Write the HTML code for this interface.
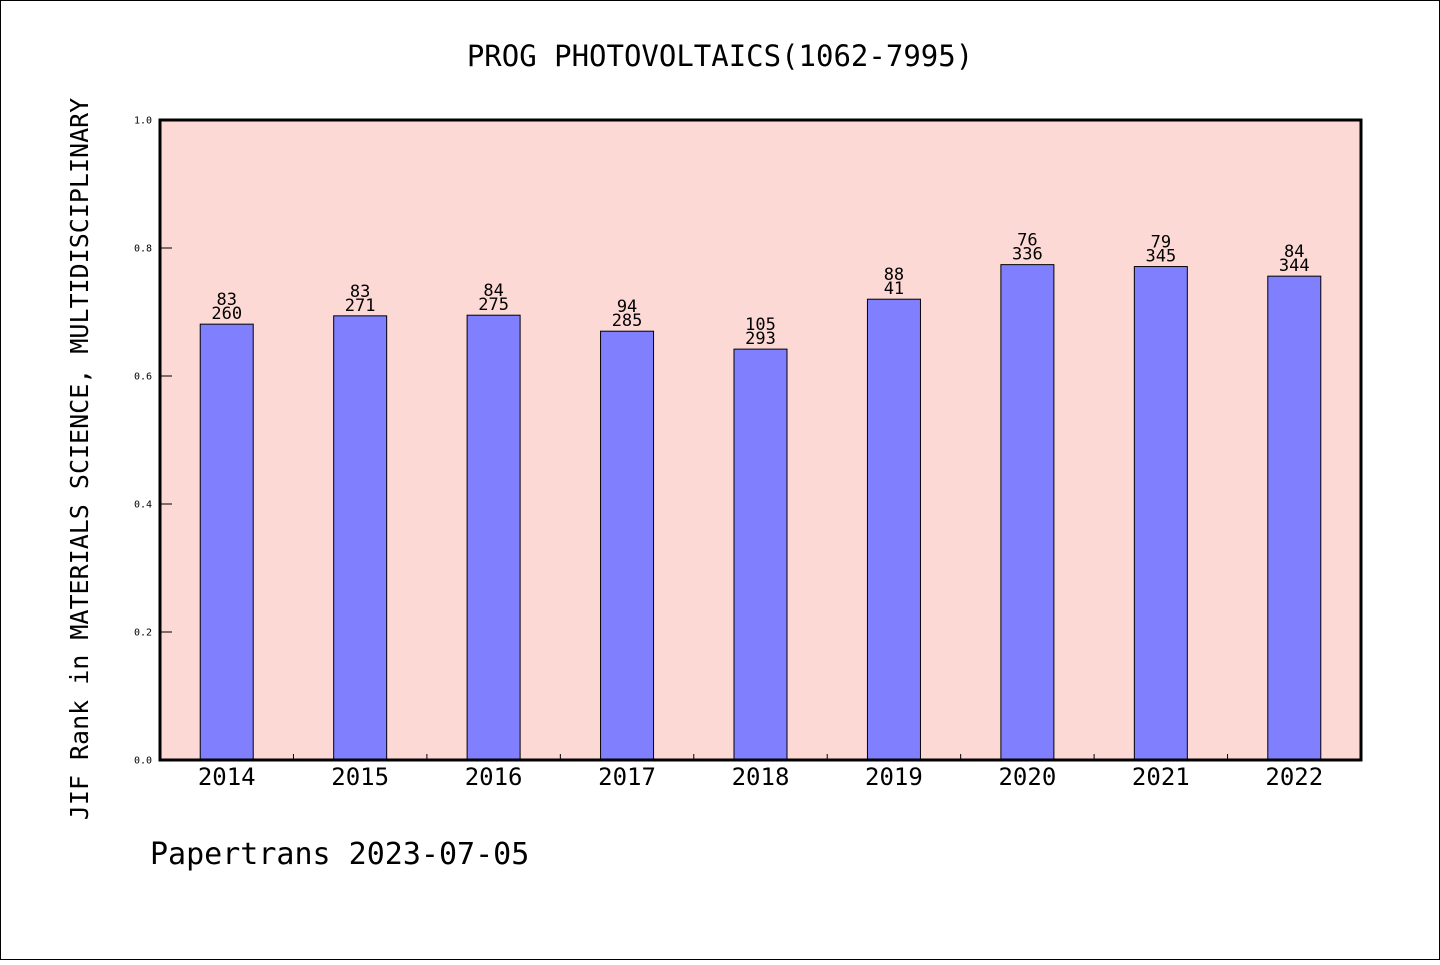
<!DOCTYPE html>
<html><head><meta charset="utf-8"><style>
html,body{margin:0;padding:0;background:#fff}
svg text{font-family:"DejaVu Sans Mono","Liberation Mono",monospace;fill:#000}
</style></head><body>
<svg id="chart" width="1440" height="960" xmlns="http://www.w3.org/2000/svg">
<rect x="0.5" y="0.5" width="1439" height="959" fill="#fff" stroke="#000"/>
<text x="720" y="66" font-size="29" text-anchor="middle">PROG PHOTOVOLTAICS(1062-7995)</text>
<rect x="160" y="120" width="1201" height="640" fill="#fdd9d6"/>
<g id="bars"></g>
<rect x="160" y="120" width="1201" height="640" fill="none" stroke="#000" stroke-width="3"/>
<text transform="translate(88,459) rotate(-90)" font-size="25" text-anchor="middle">JIF Rank in MATERIALS SCIENCE, MULTIDISCIPLINARY</text>
<text x="150" y="864" font-size="30">Papertrans 2023-07-05</text>
</svg>
<script>
const years=["2014","2015","2016","2017","2018","2019","2020","2021","2022"];
const values=[0.681,0.694,0.695,0.670,0.642,0.720,0.774,0.771,0.756];
const ranks=["83","83","84","94","105","88","76","79","84"];
const totals=["260","271","275","285","293","41","336","345","344"];
const yTicks=[0,0.2,0.4,0.6,0.8,1.0];
const yTickLabels=["0.0","0.2","0.4","0.6","0.8","1.0"];
const X0=160,W=1201,Y0=760,H=640;
const ns="http://www.w3.org/2000/svg";
const g=document.getElementById('bars');
const slot=W/years.length;
const xc=i=>X0+slot*(i+0.5);
const yv=v=>Y0-v*H;
function mk(t,a){const e=document.createElementNS(ns,t);for(const k in a)e.setAttribute(k,a[k]);g.appendChild(e);return e;}
years.forEach((yr,i)=>{
  const b=mk('rect',{x:xc(i)-26.5,y:yv(values[i]),width:53,height:Y0-yv(values[i]),fill:'#8080ff',stroke:'#000','stroke-width':1});
  
  
  const t1=mk('text',{x:xc(i),y:yv(values[i])-19,'font-size':17,'text-anchor':'middle'});t1.textContent=ranks[i];
  
  
  const t2=mk('text',{x:xc(i),y:yv(values[i])-5,'font-size':17,'text-anchor':'middle'});t2.textContent=totals[i];
  
  
  const xl=mk('text',{x:xc(i),y:785,'font-size':24,'text-anchor':'middle'});xl.textContent=yr;
  
  
  if(i>0){const tk=mk('line',{x1:X0+slot*i,x2:X0+slot*i,y1:Y0,y2:Y0-6,stroke:'#000'});
  
  }
});
yTicks.forEach((v,i)=>{
  const tk=mk('line',{x1:X0,x2:X0+12,y1:yv(v),y2:yv(v),stroke:'#000'});
  
  
  const l=mk('text',{x:152,y:yv(v)+3.5,'font-size':10,'text-anchor':'end'});l.textContent=yTickLabels[i];
  
  
});
</script>
</body></html>
